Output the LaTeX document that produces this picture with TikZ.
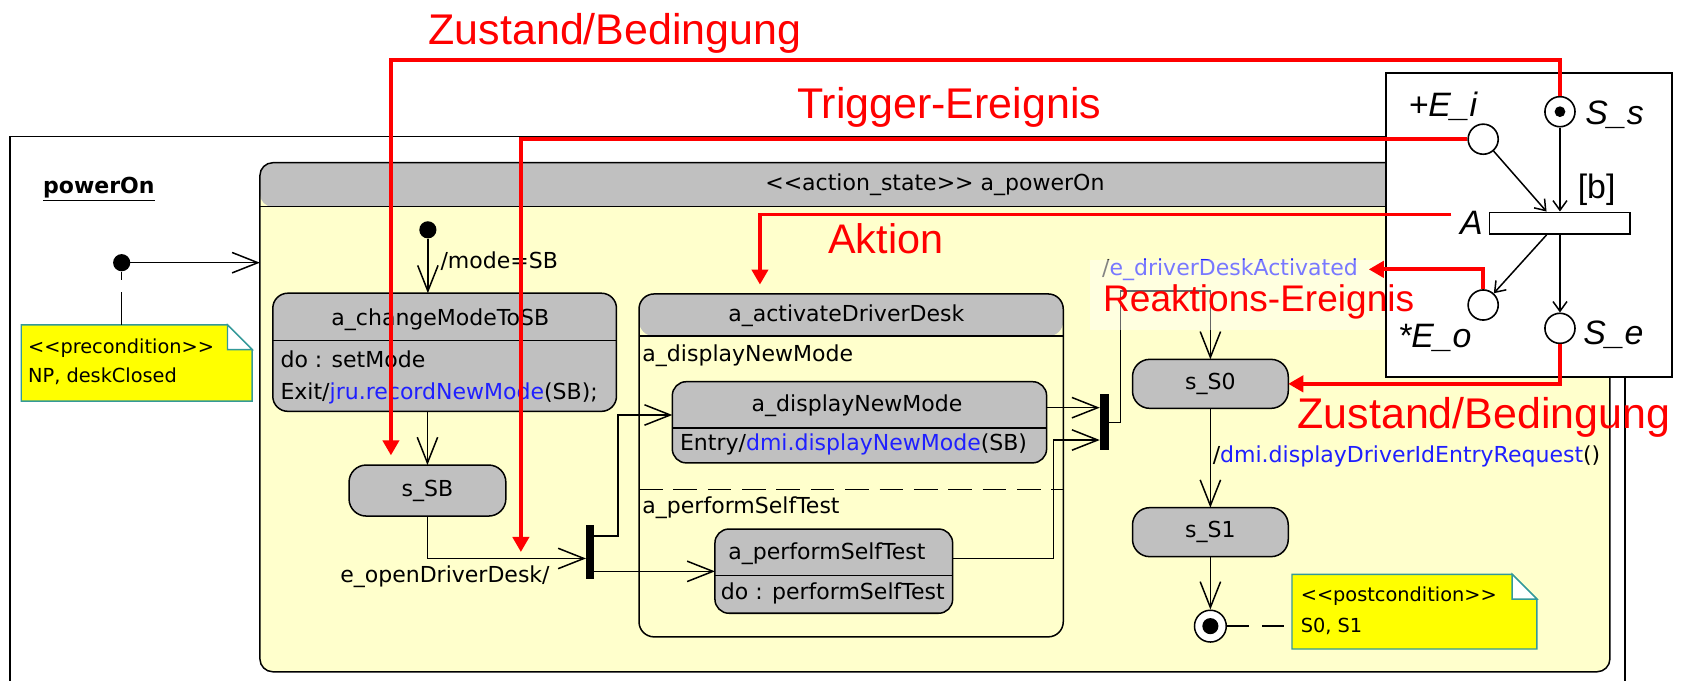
\documentclass[tikz,border=0pt]{standalone}
\usepackage{fontspec}
\setmainfont{DejaVu Sans}
\newfontfamily\arialfont{Liberation Sans}
\usetikzlibrary{arrows.meta,calc}
\definecolor{umlgray}{HTML}{C0C0C0}
\definecolor{umlcream}{HTML}{FFFFCC}
\definecolor{umlnote}{HTML}{FFFF00}
\definecolor{umlteal}{HTML}{339999}
\definecolor{umlblue}{HTML}{1F1FFF}
\definecolor{umlred}{HTML}{FF0000}
\definecolor{umlink}{HTML}{333333}
\newcommand{\uml}{\fontsize{20.5}{24}\selectfont}
\newcommand{\umlnotefont}{\fontsize{18}{22}\selectfont}
\newcommand{\pn}{\arialfont\itshape\fontsize{31.5}{36}\selectfont}
\newcommand{\callfont}[1]{\arialfont\fontsize{#1}{#1}\selectfont}
\newcommand{\notefold}[1]{%
  \filldraw[notefill] (#1.south west) -- (#1.north west) -- ([xshift=-23pt]#1.north east)
    -- ([yshift=-23pt]#1.north east) -- (#1.south east) -- cycle;
  \filldraw[notefill, fill=white] ([xshift=-23pt]#1.north east) |- ([yshift=-23pt]#1.north east) -- cycle;}

\begin{document}
\begin{tikzpicture}[
        x=1pt, y=-1pt,
        every node/.style={font=\uml},
        stbox/.style={
          draw, line width=1.4pt, fill=umlgray,
          rounded corners=#1, inner sep=0pt, outer sep=0pt,
        },
        hdr/.style={path picture={
          \fill[umlgray] (path picture bounding box.north west) rectangle ([yshift=-#1]path picture bounding box.north east);
          \draw[line width=1.4pt] ([yshift=-#1]path picture bounding box.north west) -- ([yshift=-#1]path picture bounding box.north east);
        }},
        syncbar/.style={fill=black, inner sep=0pt, outer sep=0pt},
        ini/.style={circle, fill=black, minimum size=16pt, inner sep=0pt},
        ln/.style={draw=black, line width=1.4pt},
        trans/.style={ln, -{Straight Barb[length=24pt,width=19pt]}},
        txt/.style={inner sep=0pt},
        lft/.style={txt, anchor=west},
        notebox/.style={inner sep=0pt, outer sep=0pt},
        notefill/.style={draw=umlteal, line width=1.3pt, fill=umlnote},
        pnplace/.style={circle, draw, line width=1.5pt, fill=white, minimum size=28pt, inner sep=0pt},
        pnarr/.style={line width=1.4pt, -{Straight Barb[length=9pt,width=13pt]}},
        pnlab/.style={font=\pn, inner sep=0pt},
        callout/.style={draw=umlred, line width=3.6pt, -{Triangle[length=14pt,width=15pt]}},
        calltxt/.style={text=umlred, inner sep=0pt, anchor=base west, font=\callfont{#1}},
      ]
      \useasboundingbox (0,0) rectangle (1568,634);
      \draw[line width=1.6pt] (9,640) |- (1513,127) -- (1513,640);
      \node[lft, font=\uml\bfseries] (pwr) at (40,176) {\underline{powerOn}};

      \node[stbox=12pt, fill=umlcream, hdr=41pt, minimum width=1257pt, minimum height=474pt] (apo) at (870.5,388.5) {};
      \node[txt] (apot) at (870.5,172) {<{}<action\_state>{}> a\_powerOn};

      \node[ini] (pdot) at (113.3,244.6) {};
      \draw[trans] (pdot) -- (pdot -| apo.west);
      \node[notebox, minimum width=215pt, minimum height=71pt] (pre) at (127.3,338) {};
      \notefold{pre}
      \node[lft, font=\umlnotefont] (pre1) at (26,324) {<{}<precondition>{}>};
      \node[lft, font=\umlnotefont] (pre2) at (26,350.7) {NP, deskClosed};
      \draw[ln, dash pattern=on 31pt off 11pt] (pre.north -| pdot) -- (pdot.south);

      \node[ini] (idot) at (398.4,214) {};
      \node[stbox=14pt, hdr=44pt, minimum width=320pt, minimum height=110pt] (cmode) at (414,328) {};
      \draw[trans] (idot) -- (idot |- cmode.north);
      \node[lft] (modelbl) at (410,243.6) {/mode=SB};
      \node[txt] (cmodet) at (410,298) {a\_changeModeToSB};
      \node[lft] (cmodedo) at (261,335) {do : setMode};
      \node[lft] (cmodeex) at (261,366) {Exit/\textcolor{umlblue}{jru.recordNewMode}(SB);};

      \node[stbox=16pt, minimum width=146pt, minimum height=47.5pt] (sSB) at (398,456.75) {s\_SB};
      \draw[trans] (cmode.south -| sSB.north) -- (sSB.north);

      \node[syncbar, minimum width=7.8pt, minimum height=50.6pt] (fork) at (549.5,514.1) {};
      \draw[trans] (sSB.south) |- (fork.west |- 0,520);
      \node[txt, anchor=east] (opendd) at (512,537) {e\_openDriverDesk/};

      \node[stbox=14pt, fill=umlcream, hdr=39.3pt, minimum width=395pt, minimum height=319.3pt] (adt) at (792.5,433.35) {};
      \node[txt] (adtt) at (788,294) {a\_activateDriverDesk};
      \node[lft] (regdnm) at (598,331) {a\_displayNewMode};
      \draw[ln, dash pattern=on 22pt off 10pt] (adt.west |- 0,455.6) -- (adt.east |- 0,455.6);
      \node[lft] (regpst) at (598,473) {a\_performSelfTest};

      \node[stbox=13pt, hdr=43pt, minimum width=348.5pt, minimum height=75.6pt] (dnm) at (800.25,393.2) {};
      \node[txt] (dnmt) at (798,378) {a\_displayNewMode};
      \node[lft] (dnme) at (633,414) {Entry/\textcolor{umlblue}{dmi.displayNewMode}(SB)};

      \node[stbox=13pt, hdr=43.4pt, minimum width=221.3pt, minimum height=78.4pt] (pst) at (776.35,531.8) {};
      \node[txt] (pstt) at (770,515.5) {a\_performSelfTest};
      \node[lft] (pstdo) at (671,553) {do : performSelfTest};

      \draw[trans] (fork.east |- 0,499) -- ++(22,0) |- (dnm.west |- 0,386.4);
      \draw[trans] (fork.east |- 0,532) -- (pst.west |- 0,532);

      \node[syncbar, minimum width=8.6pt, minimum height=52.2pt] (join) at (1028.3,392.9) {};
      \draw[trans] (dnm.east |- 0,379.6) -- (join.west |- 0,379.6);
      \draw[trans] (pst.east |- 0,519.8) -| (981,460) |- (join.west |- 0,409.7);

      \node[stbox=16pt, minimum width=145pt, minimum height=45.6pt] (sS0) at (1127,357.4) {s\_S0};
      \draw[trans] (join.east |- 0,393.5) -| (1043.5,271) -| (sS0.north);
      \node[lft] (ddalbl) at (1026,250.8) {\textcolor{umlink}{/}\textcolor{umlblue}{e\_driverDeskActivated}};

      \node[stbox=16pt, minimum width=145pt, minimum height=45.6pt] (sS1) at (1127,495.5) {s\_S1};
      \draw[trans] (sS0) -- (sS1);
      \node[lft] (reqlbl) at (1129,425) {/\textcolor{umlblue}{dmi.displayDriverIdEntryRequest}()};

      \node[circle, draw, line width=1.4pt, fill=white, minimum size=29.6pt, inner sep=0pt] (fin) at (1127,583) {};
      \node[ini, minimum size=15pt] (findot) at (fin) {};
      \draw[trans] (sS1) -- (fin);

      \node[notebox, minimum width=228pt, minimum height=69.5pt] (post) at (1317,569.55) {};
      \notefold{post}
      \node[lft, font=\umlnotefont] (post1) at (1211,555.5) {<{}<postcondition>{}>};
      \node[lft, font=\umlnotefont] (post2) at (1211,583.5) {S0, S1};
      \draw[ln, dash pattern=on 20pt off 13pt] (fin.east) -- (post.west |- fin);

      \fill[white, opacity=0.4] (1015,242) rectangle (1290,307);

      \node[draw, line width=1.6pt, fill=white, minimum width=266pt, minimum height=283pt, inner sep=0pt] (petri) at (1423.5,209.2) {};
      \node[pnplace] (Ei) at (1381,129.6) {};
      \node[pnplace] (Ss) at (1452.5,104) {};
      \node[ini, minimum size=10pt] (Ssdot) at (Ss) {};
      \node[draw, line width=1.5pt, fill=white, minimum width=130.7pt, minimum height=20.3pt, inner sep=0pt] (tb) at (1452.35,207.85) {};
      \node[pnplace] (Eo) at (1381,284) {};
      \node[pnplace] (Se) at (1452.5,305.7) {};
      \node[pnlab] (Eilbl) at (1343.5,99) {+E\_i};
      \node[pnlab, anchor=west] (Sslbl) at (1476,107) {S\_s};
      \node[pnlab, inner sep=8pt] (Albl) at (1370,207.7) {A};
      \node[pnlab, font=\arialfont\fontsize{31.5}{36}\selectfont] (blbl) at (1486.6,177) {[b]};
      \node[pnlab] (Eolbl) at (1336,314.8) {*E\_o};
      \node[pnlab, anchor=west] (Selbl) at (1474,312) {S\_e};
      \draw[pnarr] (Ei) -- (tb.north -| 1440,0);
      \draw[pnarr] (Ss) -- (Ss |- tb.north);
      \draw[pnarr] (tb.south -| 1440,0) -- (Eo);
      \draw[pnarr] (tb.south -| Se) -- (Se);

      \coordinate (zsb) at (364,424);
      \coordinate (tfk) at (485,514);
      \coordinate (tad) at (707.6,265);
      \draw[callout] (Ss.north) |- (zsb |- 0,56) -- (zsb);
      \draw[callout] (Ei.west) -| (tfk);
      \draw[callout] ([yshift=8pt]Albl.west) -| (tad);
      \draw[callout] (Eo.north) |- ([xshift=10pt]ddalbl.east);
      \draw[callout] (Se.south) |- (sS0.east);
      \node[calltxt=40] (zb1) at (399,41) {Zustand/Bedingung};
      \node[calltxt=40] (trg) at (742,110) {Trigger-Ereignis};
      \node[calltxt=38.5] (akt) at (771,236) {Aktion};
      \node[calltxt=34.5] (rea) at (1027,290) {Reaktions-Ereignis};
      \node[calltxt=40] (zb2) at (1208,399) {Zustand/Bedingung};
    \end{tikzpicture}
\end{document}
